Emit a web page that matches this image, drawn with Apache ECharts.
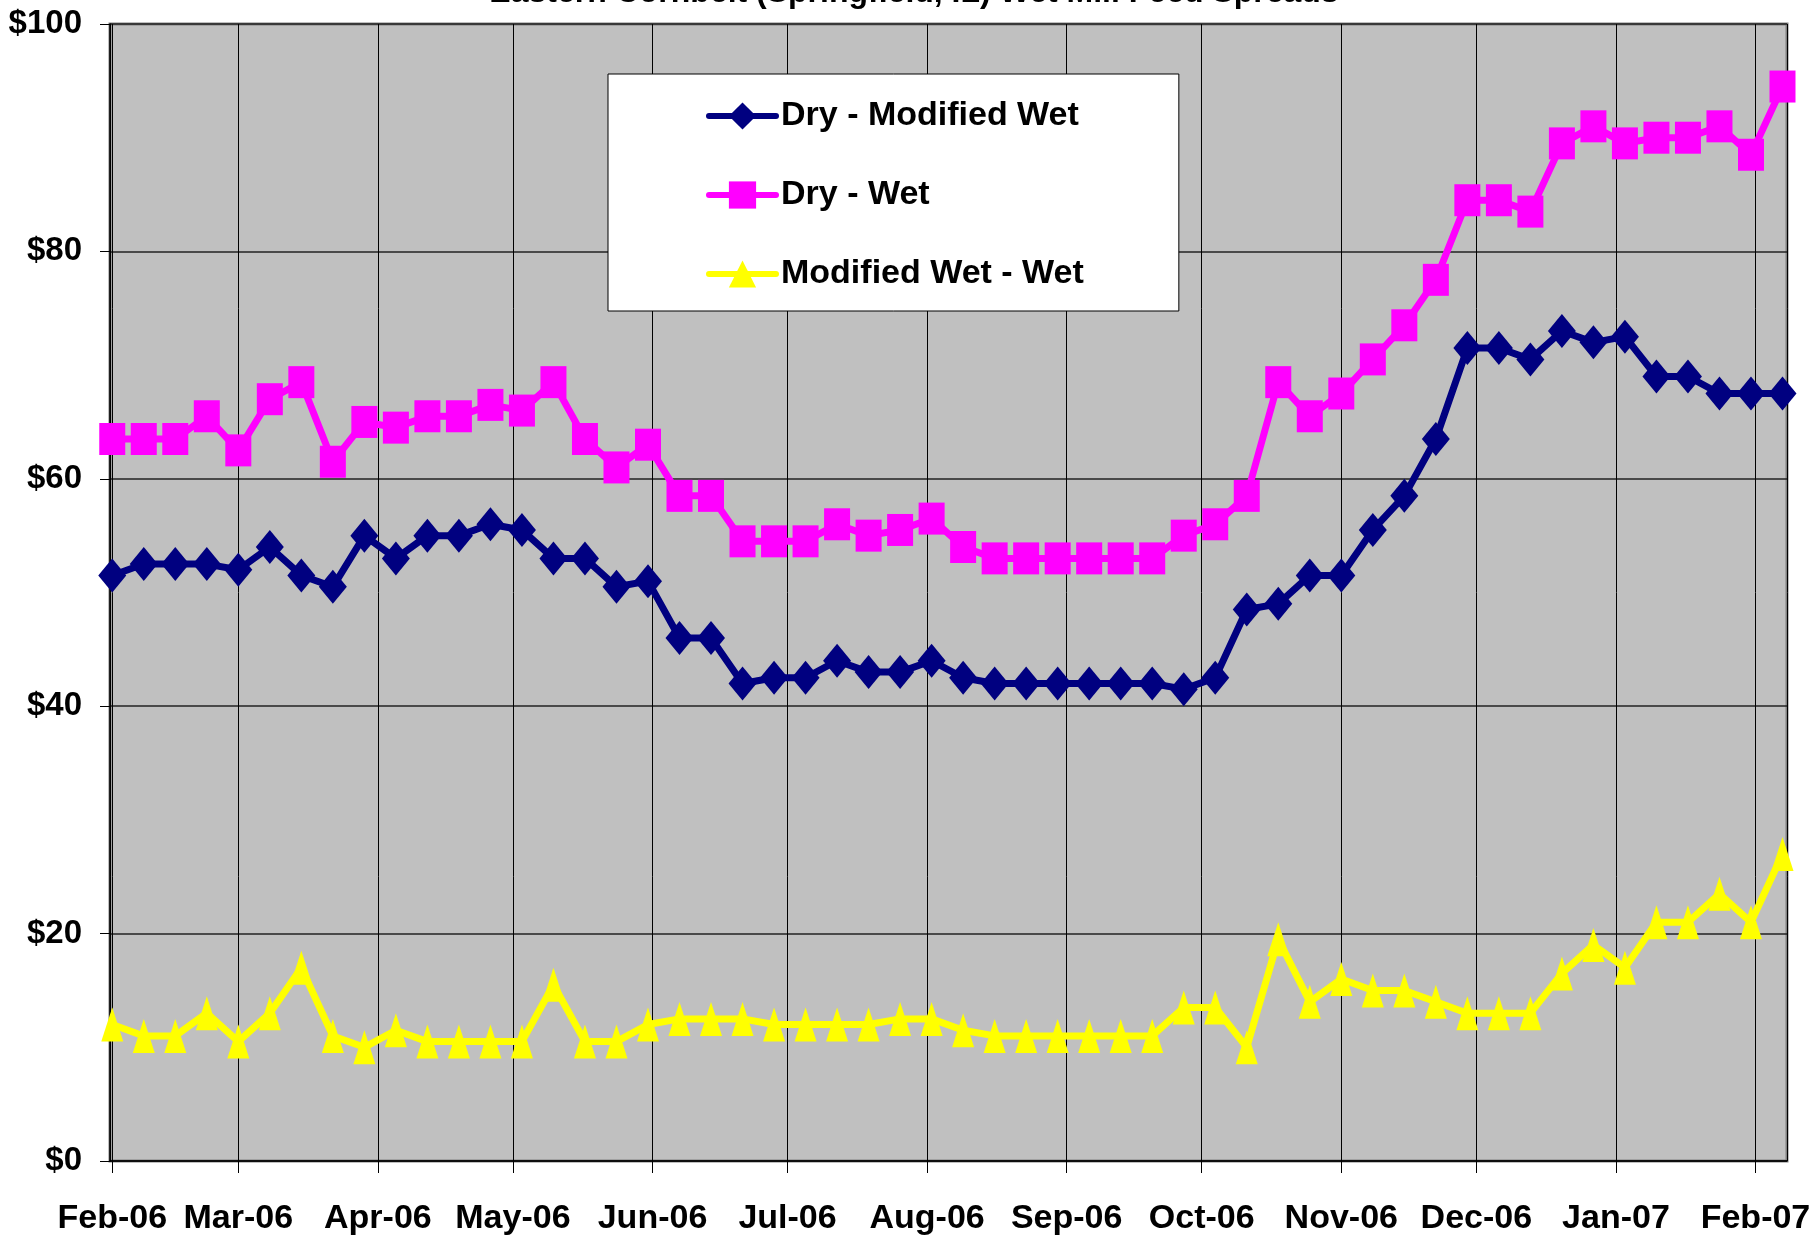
<!DOCTYPE html>
<html>
<head>
<meta charset="utf-8">
<title>Wet Mill Feed Spreads</title>
<script src="https://cdn.jsdelivr.net/npm/echarts@6.0.0/dist/echarts.min.js"></script>
<style>
  html, body { margin: 0; padding: 0; background: #fff; }
  #chart { width: 1816px; height: 1237px; }
</style>
</head>
<body>
<div id="chart"></div>
<script>
// weekly report dates
const weeks = [
  '2006-02-01', '2006-02-08', '2006-02-15', '2006-02-22',
  '2006-03-01', '2006-03-08', '2006-03-15', '2006-03-22', '2006-03-29',
  '2006-04-05', '2006-04-12', '2006-04-19', '2006-04-26',
  '2006-05-03', '2006-05-10', '2006-05-17', '2006-05-24', '2006-05-31',
  '2006-06-07', '2006-06-14', '2006-06-21', '2006-06-28',
  '2006-07-05', '2006-07-12', '2006-07-19', '2006-07-26',
  '2006-08-02', '2006-08-09', '2006-08-16', '2006-08-23', '2006-08-30',
  '2006-09-06', '2006-09-13', '2006-09-20', '2006-09-27',
  '2006-10-04', '2006-10-11', '2006-10-18', '2006-10-25',
  '2006-11-01', '2006-11-08', '2006-11-15', '2006-11-22', '2006-11-29',
  '2006-12-06', '2006-12-13', '2006-12-20', '2006-12-27',
  '2007-01-03', '2007-01-10', '2007-01-17', '2007-01-24', '2007-01-31',
  '2007-02-07'
]

const dryModWet = [
  51.5, 52.5, 52.5, 52.5, 52.0, 54.0, 51.5, 50.5, 55.0, 53.0,
  55.0, 55.0, 56.0, 55.5, 53.0, 53.0, 50.5, 51.0, 46.0, 46.0,
  42.0, 42.5, 42.5, 44.0, 43.0, 43.0, 44.0, 42.5, 42.0, 42.0,
  42.0, 42.0, 42.0, 42.0, 41.5, 42.5, 48.5, 49.0, 51.5, 51.5,
  55.5, 58.5, 63.5, 71.5, 71.5, 70.5, 73.0, 72.0, 72.5, 69.0,
  69.0, 67.5, 67.5, 67.5
]

const dryWet = [
  63.5, 63.5, 63.5, 65.5, 62.5, 67.0, 68.5, 61.5, 65.0, 64.5,
  65.5, 65.5, 66.5, 66.0, 68.5, 63.5, 61.0, 63.0, 58.5, 58.5,
  54.5, 54.5, 54.5, 56.0, 55.0, 55.5, 56.5, 54.0, 53.0, 53.0,
  53.0, 53.0, 53.0, 53.0, 55.0, 56.0, 58.5, 68.5, 65.5, 67.5,
  70.5, 73.5, 77.5, 84.5, 84.5, 83.5, 89.5, 91.0, 89.5, 90.0,
  90.0, 91.0, 88.5, 94.5
]

const modWetWet = [
  12.0, 11.0, 11.0, 13.0, 10.5, 13.0, 17.0, 11.0, 10.0, 11.5,
  10.5, 10.5, 10.5, 10.5, 15.5, 10.5, 10.5, 12.0, 12.5, 12.5,
  12.5, 12.0, 12.0, 12.0, 12.0, 12.5, 12.5, 11.5, 11.0, 11.0,
  11.0, 11.0, 11.0, 11.0, 13.5, 13.5, 10.0, 19.5, 14.0, 16.0,
  15.0, 15.0, 14.0, 13.0, 13.0, 13.0, 16.5, 19.0, 17.0, 21.0,
  21.0, 23.5, 21.0, 27.0
]

const monthNames = ['Jan', 'Feb', 'Mar', 'Apr', 'May', 'Jun', 'Jul', 'Aug', 'Sep', 'Oct', 'Nov', 'Dec']

const FONT = '"Liberation Sans", Arial, sans-serif'
const DAY = 24 * 3600 * 1000

const pairs = (vals) => weeks.map((w, i) => [w, vals[i]])

// axis runs half a day before the first report to a day past the last
const xMin = new Date(2006, 0, 31, 12).getTime()
const xMax = new Date(2007, 1, 8, 0).getTime()

const chart = echarts.init(document.getElementById('chart'))
chart.setOption({
  animation: false,
  backgroundColor: '#fff',
  title: {
    text: 'Eastern Cornbelt (Springfield, IL) Wet Mill Feed Spreads',
    left: 909,
    textAlign: 'center',
    top: -28,
    textStyle: { fontFamily: FONT, fontSize: 32, fontWeight: 'bold', color: '#000' }
  },
  legend: {
    orient: 'vertical',
    left: 608,
    top: 74,
    padding: [25, 95, 20, 98],
    itemGap: 45,
    itemWidth: 67,
    itemHeight: 34,
    backgroundColor: '#fff',
    borderColor: '#000',
    borderWidth: 1,
    lineStyle: { width: 6, cap: 'round' },
    textStyle: { fontFamily: FONT, fontSize: 34, fontWeight: 'bold', color: '#000' }
  },
  grid: {
    left: 110,
    right: 29,
    top: 24,
    bottom: 76,
    show: true,
    backgroundColor: '#c0c0c0',
    borderColor: '#808080',
    borderWidth: 3
  },
  xAxis: {
    type: 'time',
    min: xMin,
    max: xMax,
    splitNumber: 12,
    minInterval: 28 * DAY,
    maxInterval: 31 * DAY,
    axisLine: { lineStyle: { color: '#000', width: 1.5 } },
    axisTick: { show: true, length: 12, lineStyle: { color: '#000' } },
    splitLine: { show: true, lineStyle: { color: '#000', width: 1 } },
    axisLabel: {
      margin: 41,
      fontFamily: FONT,
      fontSize: 34,
      fontWeight: 'bold',
      color: '#000',
      hideOverlap: false,
      formatter: (val) => {
        const d = new Date(val)
        return monthNames[d.getMonth()] + '-' + String(d.getFullYear()).slice(2)
      }
    }
  },
  yAxis: {
    type: 'value',
    min: 0,
    max: 100,
    interval: 20,
    axisLine: { show: true, lineStyle: { color: '#000', width: 1.5 } },
    axisTick: { show: true, length: 10, lineStyle: { color: '#000' } },
    splitLine: { show: true, lineStyle: { color: '#222', width: 1.5 } },
    axisLabel: {
      margin: 28,
      fontFamily: FONT,
      fontSize: 33,
      fontWeight: 'bold',
      color: '#000',
      formatter: (v) => '$' + v
    }
  },
  series: [
    {
      name: 'Dry - Modified Wet',
      type: 'line',
      data: pairs(dryModWet),
      symbol: 'diamond',
      symbolSize: [28, 34],
      itemStyle: { color: '#000080' },
      lineStyle: { color: '#000080', width: 7 }
    },
    {
      name: 'Dry - Wet',
      type: 'line',
      data: pairs(dryWet),
      symbol: 'rect',
      symbolSize: [26, 32],
      itemStyle: { color: '#ff00ff' },
      lineStyle: { color: '#ff00ff', width: 7 }
    },
    {
      name: 'Modified Wet - Wet',
      type: 'line',
      data: pairs(modWetWet),
      symbol: 'triangle',
      symbolSize: [22, 34],
      itemStyle: { color: '#ffff00' },
      lineStyle: { color: '#ffff00', width: 7 }
    }
  ]
})
</script>
</body>
</html>
